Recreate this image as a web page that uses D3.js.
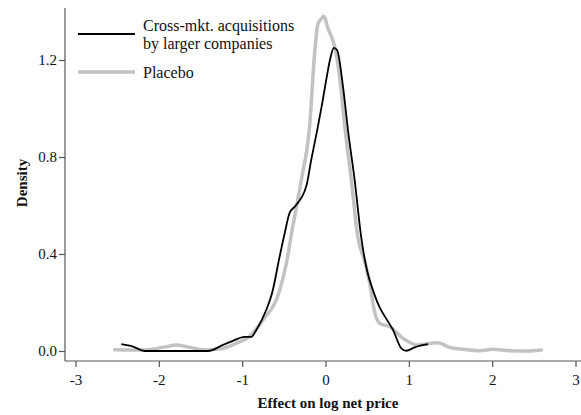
<!DOCTYPE html>
<html>
<head>
<meta charset="utf-8">
<script src="https://cdn.jsdelivr.net/npm/d3@7"></script>
<style>
  body { margin: 0; background: #fff; }
  svg text { font-family: "Liberation Serif", "DejaVu Serif", serif; fill: #111; }
</style>
</head>
<body>
<svg id="chart" width="581" height="415"></svg>
<script>
// density curves
const crossX = [-2.45, -2.31, -2.17, -1.41, -1.23, -1.11, -0.97, -0.89, -0.83, -0.71, -0.64, -0.55,
  -0.49, -0.43, -0.37, -0.23, -0.17, -0.10, -0.04, 0.02, 0.06, 0.10, 0.14, 0.21, 0.27, 0.35, 0.43,
  0.50, 0.57, 0.65, 0.69, 0.81, 0.91, 0.97, 1.07, 1.23];
const crossY = [0.028, 0.018, 0.0, 0.0, 0.025, 0.042, 0.058, 0.058, 0.087, 0.17, 0.24, 0.39,
  0.485, 0.57, 0.595, 0.68, 0.79, 0.91, 1.02, 1.14, 1.21, 1.25, 1.24, 1.09, 0.91, 0.705, 0.465,
  0.33, 0.25, 0.18, 0.155, 0.087, 0.011, 0.001, 0.015, 0.028];

const placeboX = [-2.53, -2.19, -1.91, -1.79, -1.63, -1.43, -1.23, -1.07, -0.93, -0.75, -0.55,
  -0.47, -0.40, -0.29, -0.19, -0.13, -0.09, -0.05, -0.02, 0.03, 0.11, 0.17, 0.23, 0.31,
  0.39, 0.47, 0.53, 0.59, 0.65, 0.77, 0.93, 1.11, 1.35, 1.49, 1.65, 1.85, 2.01, 2.21, 2.41, 2.59];
const placeboY = [0.005, 0.004, 0.018, 0.025, 0.015, 0.004, 0.011, 0.032, 0.055, 0.128, 0.25,
  0.36, 0.5, 0.705, 0.93, 1.23, 1.35, 1.37, 1.38, 1.33, 1.255, 1.13, 0.93, 0.705,
  0.465, 0.37, 0.28, 0.16, 0.114, 0.1, 0.052, 0.025, 0.034, 0.015, 0.007, 0.001, 0.007, 0.001, 0.0, 0.004];

const xTicks = [-3, -2, -1, 0, 1, 2, 3];
const yTicks = [0, 0.4, 0.8, 1.2];
const seriesNames = ["Cross-mkt. acquisitions|by larger companies", "Placebo"];

const svg = d3.select("#chart");
const x = d3.scaleLinear().domain([-3, 3]).range([75.5, 575.5]);
const y = d3.scaleLinear().domain([0, 1.2]).range([351, 60]);
const axisColor = "#555";
const serif = "'Liberation Serif', 'DejaVu Serif', serif";

// axes
const xAxis = svg.append("g").attr("transform", "translate(0,361)")
  .call(d3.axisBottom(x).tickValues(xTicks).tickFormat(d => String(d)).tickSize(6).tickSizeOuter(0));
xAxis.select(".domain").attr("d", "M65,0H581");
const yAxis = svg.append("g").attr("transform", "translate(65,0)")
  .call(d3.axisLeft(y).tickValues(yTicks).tickFormat(d3.format(".1f")).tickSize(6).tickSizeOuter(0));
yAxis.select(".domain").attr("d", "M0,8V361");
svg.selectAll("g").attr("font-family", serif);
svg.selectAll(".domain, .tick line").attr("stroke", axisColor).attr("stroke-width", 1.2);
svg.selectAll(".tick text").attr("font-size", 15).attr("fill", "#111");
xAxis.selectAll(".tick text").attr("dy", "1.0em");
yAxis.selectAll(".tick text").attr("x", -8);

svg.append("text").attr("x", 328).attr("y", 408).attr("text-anchor", "middle")
  .attr("font-family", serif).attr("font-size", 15).attr("font-weight", "bold").text("Effect on log net price");
svg.append("text").attr("transform", "translate(27,183) rotate(-90)").attr("text-anchor", "middle")
  .attr("font-family", serif).attr("font-size", 15).attr("font-weight", "bold").text("Density");

// curves
const line = d3.line().x(d => x(d[0])).y(d => y(d[1])).curve(d3.curveMonotoneX);
svg.append("path").datum(d3.zip(placeboX, placeboY)).attr("d", line)
  .attr("fill", "none").attr("stroke", "#c2c2c2").attr("stroke-width", 3.5)
  .attr("stroke-linejoin", "round").attr("stroke-linecap", "round");
svg.append("path").datum(d3.zip(crossX, crossY)).attr("d", line)
  .attr("fill", "none").attr("stroke", "#000").attr("stroke-width", 1.8)
  .attr("stroke-linejoin", "round");

// legend
const legend = svg.append("g").attr("font-family", serif).attr("font-size", 16);
legend.append("line").attr("x1", 78).attr("x2", 135).attr("y1", 34).attr("y2", 34)
  .attr("stroke", "#000").attr("stroke-width", 2);
legend.append("line").attr("x1", 78).attr("x2", 135).attr("y1", 72).attr("y2", 72)
  .attr("stroke", "#c2c2c2").attr("stroke-width", 3.5);
const t1 = legend.append("text").attr("x", 143).attr("y", 31);
seriesNames[0].split("|").forEach((s, i) => {
  t1.append("tspan").attr("x", 143).attr("dy", i ? 17.5 : 0).text(s);
});
legend.append("text").attr("x", 143).attr("y", 78).text(seriesNames[1]);
</script>
</body>
</html>
